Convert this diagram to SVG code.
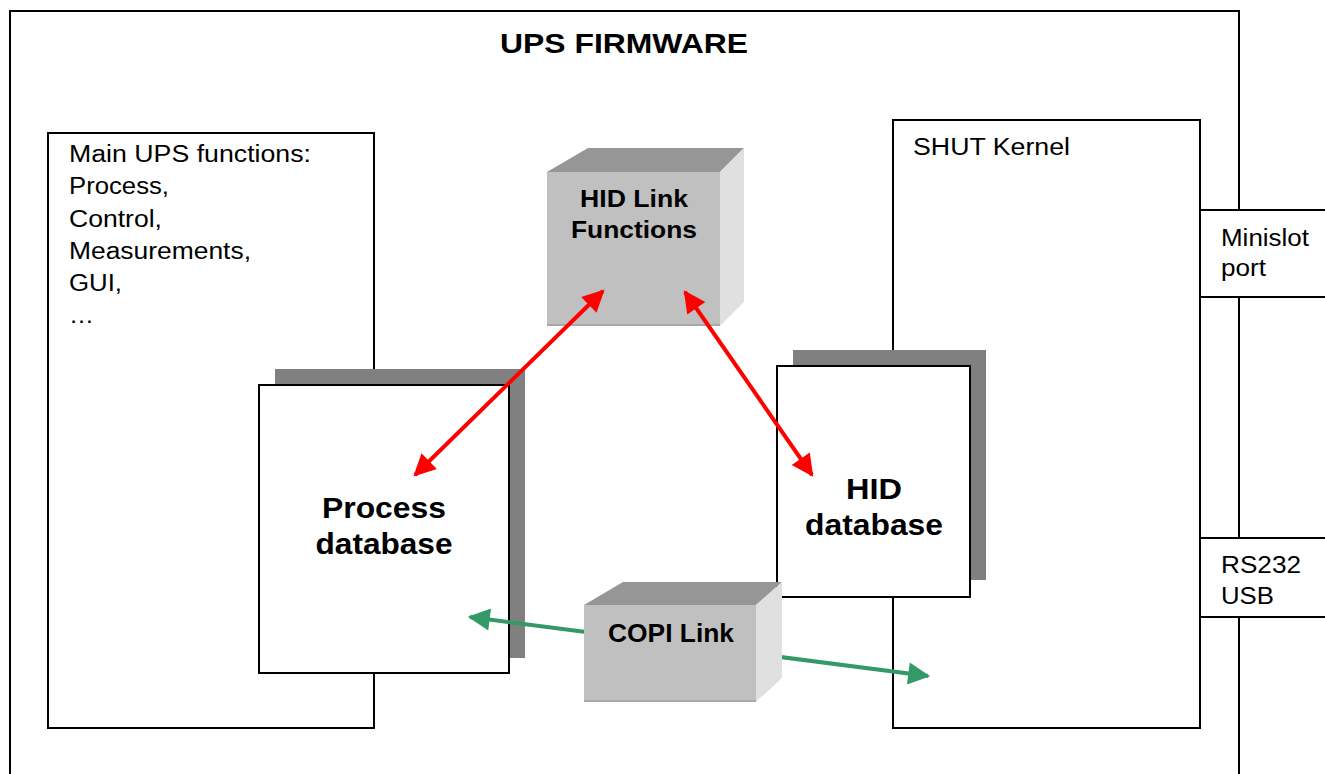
<svg xmlns="http://www.w3.org/2000/svg" width="1325" height="774" viewBox="0 0 1325 774">
<style>
.box{fill:#fff;stroke:#000;stroke-width:2}
.shadow{fill:#808080}
.t{font-family:"Liberation Sans",Arial,sans-serif;font-size:23px;fill:#000}
.b{font-family:"Liberation Sans",Arial,sans-serif;font-weight:bold;fill:#000;text-anchor:middle}
.front{fill:#c0c0c0}
.top{fill:#969696}
.side{fill:#e0e0e0}
.red{stroke:#ff0000;stroke-width:4;fill:none}
.green{stroke:#339966;stroke-width:4;fill:none}
</style>
<defs>
<marker id="ar" viewBox="0 0 10 10" refX="9" refY="5" markerWidth="6.5" markerHeight="5.5" markerUnits="strokeWidth" orient="auto-start-reverse"><path d="M0,0 L10,5 L0,10 Z" fill="#ff0000"/></marker>
<marker id="ag" viewBox="0 0 10 10" refX="9" refY="5" markerWidth="6.5" markerHeight="5.5" markerUnits="strokeWidth" orient="auto-start-reverse"><path d="M0,0 L10,5 L0,10 Z" fill="#339966"/></marker>
</defs>
<rect width="1325" height="774" fill="#fff"/>
<g id="frame">
<rect x="10" y="11" width="1229" height="800" fill="#fff" stroke="#000" stroke-width="2"/>
<text class="b" x="624" y="53" font-size="28" textLength="248" lengthAdjust="spacingAndGlyphs">UPS FIRMWARE</text>
</g>
<g id="main-functions">
<rect class="box" x="48" y="133" width="326" height="595"/>
<text class="t" x="69" y="162" textLength="242" lengthAdjust="spacingAndGlyphs">Main UPS functions:</text>
<text class="t" x="69" y="194" textLength="100" lengthAdjust="spacingAndGlyphs">Process,</text>
<text class="t" x="69" y="227" textLength="93" lengthAdjust="spacingAndGlyphs">Control,</text>
<text class="t" x="69" y="259" textLength="182" lengthAdjust="spacingAndGlyphs">Measurements,</text>
<text class="t" x="69" y="291" textLength="53" lengthAdjust="spacingAndGlyphs">GUI,</text>
<text class="t" x="69" y="323" textLength="25" lengthAdjust="spacingAndGlyphs">…</text>
</g>
<g id="shut-kernel">
<rect class="box" x="893" y="120" width="307" height="608"/>
<text class="t" x="913" y="155" textLength="157" lengthAdjust="spacingAndGlyphs">SHUT Kernel</text>
</g>
<g id="minislot">
<rect class="box" x="1200" y="210" width="140" height="87"/>
<text class="t" x="1221" y="246" textLength="88" lengthAdjust="spacingAndGlyphs">Minislot</text>
<text class="t" x="1221" y="276" textLength="45" lengthAdjust="spacingAndGlyphs">port</text>
</g>
<g id="rs232">
<rect class="box" x="1200" y="538" width="140" height="79"/>
<text class="t" x="1221" y="573" textLength="80" lengthAdjust="spacingAndGlyphs">RS232</text>
<text class="t" x="1221" y="604" textLength="53" lengthAdjust="spacingAndGlyphs">USB</text>
</g>
<g id="process-db">
<rect class="shadow" x="275" y="369" width="250" height="289"/>
<rect class="box" x="259" y="385" width="250" height="288"/>
<text class="b" x="384" y="518" font-size="29" textLength="124" lengthAdjust="spacingAndGlyphs">Process</text>
<text class="b" x="384" y="554" font-size="29" textLength="137" lengthAdjust="spacingAndGlyphs">database</text>
</g>
<g id="hid-db">
<rect class="shadow" x="793" y="350" width="193" height="230"/>
<rect class="box" x="777" y="366" width="193" height="231"/>
<text class="b" x="874" y="499" font-size="29" textLength="56" lengthAdjust="spacingAndGlyphs">HID</text>
<text class="b" x="874" y="535" font-size="29" textLength="138" lengthAdjust="spacingAndGlyphs">database</text>
</g>
<g id="connectors-green">
<line class="green" x1="470" y1="617" x2="928" y2="676" marker-start="url(#ag)" marker-end="url(#ag)"/>
</g>
<g id="copi-link">
<polygon class="top" points="584,605 623,582 782,582 756,605"/>
<polygon class="side" points="756,605 782,582 782,678 756,702"/>
<rect class="front" x="584" y="605" width="172" height="97"/>
<line x1="584" y1="701" x2="756" y2="701" stroke="#a8a8a8" stroke-width="2"/>
<text class="b" x="671" y="642" font-size="25" textLength="126" lengthAdjust="spacingAndGlyphs">COPI Link</text>
</g>
<g id="hid-link">
<polygon class="top" points="547,172 588,148 744,148 720,172"/>
<polygon class="side" points="720,172 744,148 744,302 720,326"/>
<rect class="front" x="547" y="172" width="173" height="154"/>
<line x1="547" y1="325" x2="720" y2="325" stroke="#a8a8a8" stroke-width="2"/>
<text class="b" x="634" y="207" font-size="24" textLength="108" lengthAdjust="spacingAndGlyphs">HID Link</text>
<text class="b" x="634" y="238" font-size="24" textLength="126" lengthAdjust="spacingAndGlyphs">Functions</text>
</g>
<g id="connectors-red">
<line class="red" x1="415" y1="475" x2="603" y2="291" marker-start="url(#ar)" marker-end="url(#ar)"/>
<line class="red" x1="685" y1="292" x2="812" y2="475" marker-start="url(#ar)" marker-end="url(#ar)"/>
</g>
</svg>
